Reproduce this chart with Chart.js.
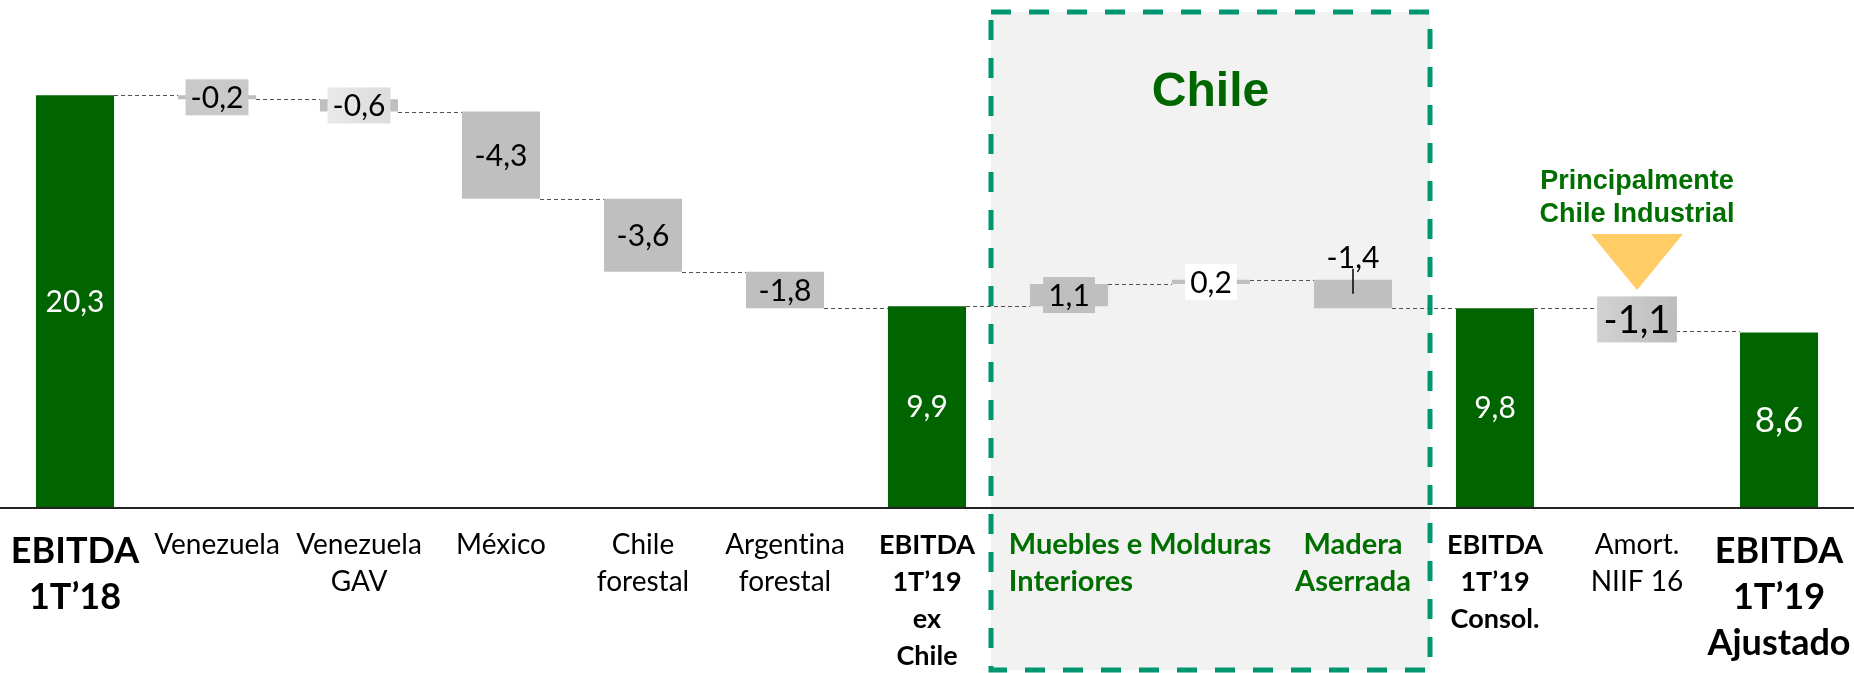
<!DOCTYPE html>
<html>
<head>
<meta charset="utf-8">
<script src="https://cdn.jsdelivr.net/npm/chart.js@4.4.1/dist/chart.umd.min.js"></script>
<style>
  html, body { margin: 0; padding: 0; background: #fff; overflow: hidden; }
  canvas { display: block; }
</style>
</head>
<body>
<canvas id="waterfall" width="1854" height="673"></canvas>
<script>
const categories = ['EBITDA 1T’18', 'Venezuela', 'Venezuela GAV', 'México', 'Chile forestal', 'Argentina forestal',
  'EBITDA 1T’19 ex Chile', 'Muebles', 'Molduras Interiores', 'Madera Aserrada', 'EBITDA 1T’19 Consol.',
  'Amort. NIIF 16', 'EBITDA 1T’19 Ajustado'];
const values = [20.3, -0.2, -0.6, -4.3, -3.6, -1.8, 9.9, 1.1, 0.2, -1.4, 9.8, -1.1, 8.6];
const isTotal = [true, false, false, false, false, false, true, false, false, false, true, false, true];
const tickLines = [
  ['EBITDA', '1T’18'], ['Venezuela'], ['Venezuela', 'GAV'], ['México'], ['Chile', 'forestal'],
  ['Argentina', 'forestal'], ['EBITDA', '1T’19', 'ex', 'Chile'], ['Muebles e Molduras', 'Interiores'], [],
  ['Madera', 'Aserrada'], ['EBITDA', '1T’19', 'Consol.'], ['Amort.', 'NIIF 16'], ['EBITDA', '1T’19', 'Ajustado']
];
const groupTitle = 'Chile';
const calloutLines = ['Principalmente', 'Chile Industrial'];

// floating ranges for the waterfall
let level = 0;
const ranges = values.map((v, i) => {
  if (isTotal[i]) { level = v; return [0, v]; }
  const r = [level, level + v];
  level += v;
  return r;
});

const GREEN = '#006400';
const GREY = '#bfbfbf';
const TEXT_GREEN = '#006f00';
const FONT = 'Lato, "Open Sans", sans-serif';
const ARIAL = '"Liberation Sans", Arial, sans-serif';

const fmt = v => v.toFixed(1).replace('.', ',');

// label look per bar
const labelStyle = [
  { color: '#fff' },
  { box: '#c9c9c9' },
  { box: ['#e9e9e9', '#dcdcdc'] },
  {}, {}, {},
  { color: '#fff' },
  { box: '#bfbfbf' },
  { box: '#ffffff' },
  { above: true },
  { color: '#fff' },
  { box: ['#d2d2d2', '#bcbcbc'], size: 38 },
  { color: '#fff', size: 35 }
];

const chileBox = {
  id: 'chileBox',
  beforeDatasetsDraw(chart) {
    const { ctx } = chart;
    const xs = chart.scales.x;
    const l = xs.getPixelForValue(6.5) - 7, r = xs.getPixelForValue(9.5) + 6;
    ctx.save();
    ctx.fillStyle = '#f2f2f2';
    ctx.fillRect(l, 12, r - l, 658);
    ctx.restore();
  },
  afterDraw(chart) {
    const { ctx } = chart;
    const xs = chart.scales.x;
    const l = xs.getPixelForValue(6.5) - 7, r = xs.getPixelForValue(9.5) + 6;
    ctx.save();
    ctx.strokeStyle = '#009670';
    ctx.lineWidth = 5;
    ctx.setLineDash([20, 18]);
    ctx.strokeRect(l, 12, r - l, 658);
    ctx.setLineDash([]);
    ctx.fillStyle = '#006600';
    ctx.font = 'bold 48px ' + ARIAL;
    ctx.textAlign = 'center';
    ctx.textBaseline = 'alphabetic';
    ctx.fillText(groupTitle, (l + r) / 2, 106);
    ctx.restore();
  }
};

const connectors = {
  id: 'connectors',
  beforeDatasetsDraw(chart) {
    const { ctx } = chart;
    const bars = chart.getDatasetMeta(0).data;
    const ys = chart.scales.y;
    ctx.save();
    ctx.strokeStyle = '#505050';
    ctx.lineWidth = 1.2;
    ctx.setLineDash([4, 3]);
    for (let i = 0; i < bars.length - 1; i++) {
      const end = ranges[i][1];
      const y = Math.round(ys.getPixelForValue(end)) + 0.5;
      ctx.beginPath();
      ctx.moveTo(bars[i].x + bars[i].width / 2, y);
      ctx.lineTo(bars[i + 1].x - bars[i + 1].width / 2, y);
      ctx.stroke();
    }
    ctx.restore();
  }
};

const valueLabels = {
  id: 'valueLabels',
  afterDatasetsDraw(chart) {
    const { ctx } = chart;
    const bars = chart.getDatasetMeta(0).data;
    ctx.save();
    ctx.textAlign = 'center';
    ctx.textBaseline = 'middle';
    bars.forEach((b, i) => {
      const st = labelStyle[i];
      const size = st.size || 30;
      const txt = fmt(values[i]);
      const top = Math.min(b.y, b.base), bot = Math.max(b.y, b.base);
      let cy = (top + bot) / 2;
      ctx.font = `${size}px ${FONT}`;
      if (st.above) {
        cy = top - 23;
        ctx.strokeStyle = '#000';
        ctx.lineWidth = 1.5;
        ctx.beginPath();
        ctx.moveTo(b.x, top - 11);
        ctx.lineTo(b.x, top + 14);
        ctx.stroke();
      }
      if (st.box) {
        const w = ctx.measureText(txt).width + size * 0.34;
        const h = Math.round(size * 1.2);
        if (Array.isArray(st.box)) {
          const g = ctx.createLinearGradient(b.x - w / 2, 0, b.x + w / 2, 0);
          g.addColorStop(0, st.box[0]);
          g.addColorStop(1, st.box[1]);
          ctx.fillStyle = g;
        } else {
          ctx.fillStyle = st.box;
        }
        ctx.fillRect(b.x - w / 2, cy - h / 2, w, h);
      }
      ctx.fillStyle = st.color || '#000';
      ctx.fillText(txt, b.x, cy + 1);
    });
    ctx.restore();
  }
};

const axisLabels = {
  id: 'axisLabels',
  afterDraw(chart) {
    const { ctx } = chart;
    const xs = chart.scales.x;
    const ys = chart.scales.y;
    ctx.save();
    // baseline
    const y0 = ys.getPixelForValue(0);
    ctx.strokeStyle = '#222';
    ctx.lineWidth = 2;
    ctx.beginPath();
    ctx.moveTo(0, y0 + 1);
    ctx.lineTo(chart.width, y0 + 1);
    ctx.stroke();

    ctx.letterSpacing = '0.01px'; // keeps "ti" from joining
    ctx.textBaseline = 'middle';
    tickLines.forEach((lines, i) => {
      if (!lines.length) return;
      const x = xs.getPixelForValue(i);
      let font = `28px ${FONT}`, color = '#000', y = 545, step = 37, align = 'center', lx = x;
      if (i === 0 || i === 12) { font = `bold 36px ${FONT}`; y = 551; step = 46; }
      else if (i === 6 || i === 10) { font = `bold 27px ${FONT}`; }
      else if (i === 7 || i === 9) { font = `bold 29px ${FONT}`; color = TEXT_GREEN; }
      ctx.font = font;
      ctx.fillStyle = color;
      if (i === 7) {
        const mid = (x + xs.getPixelForValue(8)) / 2;
        lx = mid - ctx.measureText(lines[0]).width / 2;
        align = 'left';
      }
      ctx.textAlign = align;
      lines.forEach((t, k) => ctx.fillText(t, lx, y + k * step));
    });

    // callout over the NIIF 16 adjustment
    const cx = xs.getPixelForValue(11);
    ctx.fillStyle = TEXT_GREEN;
    ctx.font = `bold 27px ${ARIAL}`;
    ctx.textAlign = 'center';
    calloutLines.forEach((t, k) => ctx.fillText(t, cx, 182 + k * 33));
    ctx.fillStyle = '#ffcc66';
    ctx.beginPath();
    ctx.moveTo(cx - 46, 234);
    ctx.lineTo(cx + 46, 234);
    ctx.lineTo(cx, 290);
    ctx.closePath();
    ctx.fill();
    ctx.restore();
  }
};

new Chart(document.getElementById('waterfall'), {
  type: 'bar',
  data: {
    labels: categories,
    datasets: [{
      data: ranges,
      backgroundColor: isTotal.map(t => t ? GREEN : GREY),
      borderSkipped: false,
      barPercentage: 0.55,
      categoryPercentage: 1
    }]
  },
  options: {
    responsive: false,
    animation: false,
    layout: { padding: { left: 4, right: 4, top: 0, bottom: 166 } },
    plugins: { legend: { display: false }, tooltip: { enabled: false } },
    scales: {
      x: { display: false },
      y: { display: false, min: 0, max: 25 }
    }
  },
  plugins: [chileBox, connectors, valueLabels, axisLabels]
});
</script>
</body>
</html>
